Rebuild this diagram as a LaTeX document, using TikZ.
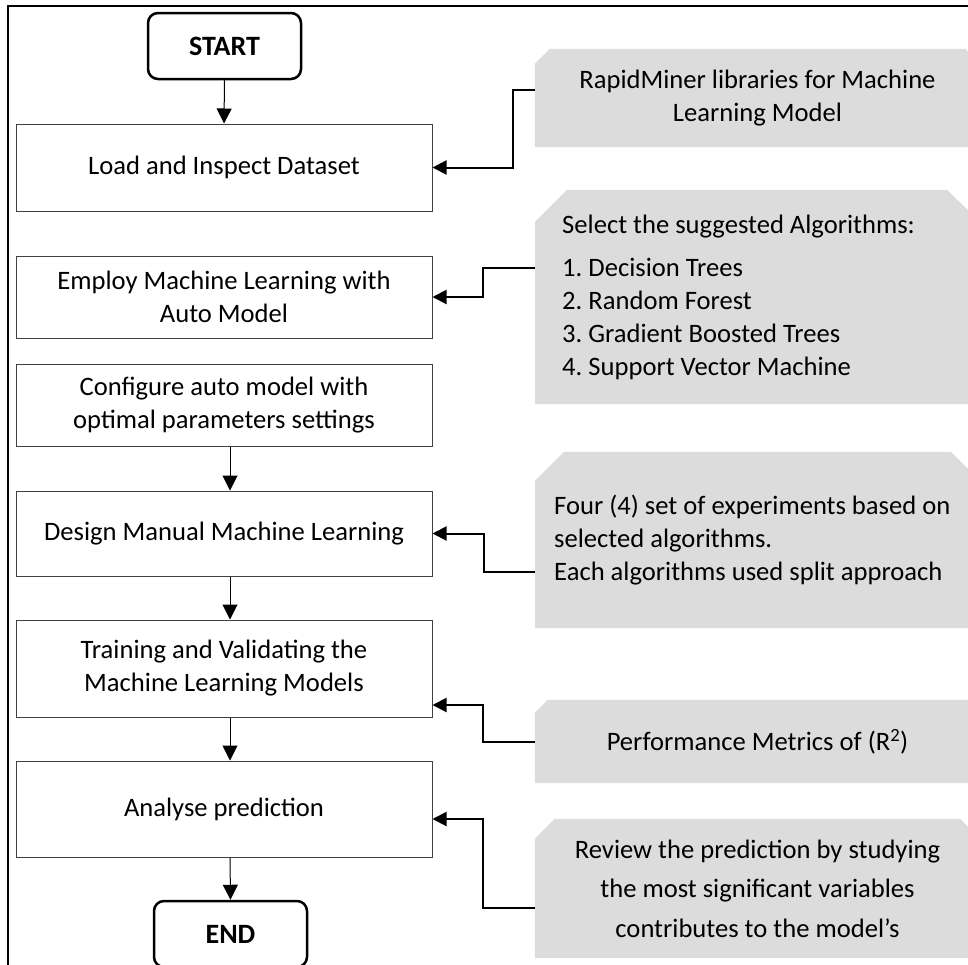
\documentclass[tikz,border=0pt]{standalone}
\usepackage{fontspec}
\setmainfont{Carlito}
\usetikzlibrary{arrows.meta,backgrounds}
\definecolor{grayfill}{HTML}{DCDCDC}
\definecolor{boxline}{HTML}{404040}
\newcommand\snipfill[2]{\fill[grayfill] (#1.south west) -- ([yshift=-#2pt]#1.north west) -- ([xshift=#2pt]#1.north west) -- ([xshift=-#2pt]#1.north east) -- ([yshift=-#2pt]#1.north east) -- (#1.south east) -- cycle;}
\begin{document}
\frenchspacing
\begin{tikzpicture}[x=1pt,y=-1pt,
  every node/.style={font=\fontsize{26.6}{33}\selectfont, inner sep=0pt},
  flowbox/.style={draw=boxline, line width=1pt, minimum width=416pt, align=center},
  term/.style={draw=black, line width=2.5pt, rounded corners=10pt, minimum width=153pt, minimum height=66pt, font=\fontsize{28}{33}\selectfont\bfseries},
  note/.style={minimum width=445pt, align=center},
  noteleft/.style={anchor=west, align=flush left},
  flow/.style={line width=1pt, -{Triangle[length=15pt,width=15pt]}},
  conn/.style={line width=2pt, -{Triangle[length=14pt,width=14pt]}},
]
\useasboundingbox (0,0) rectangle (968,964);
\draw[line width=2pt] (8,990) -- (8,6) -- (990,6);

% flow column
\node[term] (start) at (224.5,46) {START};
\node[flowbox, minimum height=87pt] (b1) at (224,167.5) {Load and Inspect Dataset};
\node[flowbox, minimum height=82pt] (b2) at (224,297) {Employ Machine Learning with\\Auto Model};
\node[flowbox, minimum height=82pt] (b3) at (224,405) {Configure auto model with\\optimal parameters settings};
\node[flowbox, minimum height=85pt] (b4) at (224,533.5) {Design Manual Machine Learning};
\node[flowbox, minimum height=97pt] (b5) at (224,668.5) {Training and Validating the\\Machine Learning Models};
\node[flowbox, minimum height=96pt] (b6) at (224,809) {Analyse prediction};
\node[term] (end) at (230.5,934) {END};

% notes
\node[note, minimum height=98pt] (nA) at (757.5,98) {RapidMiner libraries for Machine\\Learning Model};
\node[noteleft, minimum height=214pt, text width=418pt, inner xsep=27pt] (nB) at (535,297) {Select the suggested Algorithms:\\[10pt]1. Decision Trees\\2. Random Forest\\3. Gradient Boosted Trees\\4. Support Vector Machine};
\node[noteleft, minimum height=176pt, text width=430pt, inner xsep=19pt] (nC) at (535,540) {Four (4) set of experiments based on\\selected algorithms.\\Each algorithms used split approach};
\node[note, minimum height=83pt] (nD) at (757.5,741.5) {Performance Metrics of (R\textsuperscript{2})};
\node[note, minimum height=139pt, font=\fontsize{26.6}{39.5}\selectfont] (nE) at (757.5,888.5) {Review the prediction by studying\\the most significant variables\\contributes to the model’s};

\begin{scope}[on background layer]
\fill[white] (0,0) rectangle (968,964);
\snipfill{nA}{15}
\fill[grayfill] (nB.south west) -- ([yshift=-32pt]nB.north west) -- ([xshift=32pt]nB.north west) -- ([xshift=412pt]nB.north west) -- ([xshift=445pt,yshift=-32pt]nB.north west) -- ([xshift=445pt]nB.south west) -- cycle;
\fill[grayfill] (nC.south west) -- ([yshift=-29pt]nC.north west) -- ([xshift=29pt]nC.north west) -- ([xshift=416pt]nC.north west) -- ([xshift=445pt,yshift=-29pt]nC.north west) -- ([xshift=445pt]nC.south west) -- cycle;
\snipfill{nD}{13}
\snipfill{nE}{20}
\end{scope}

% flow arrows
\draw[flow] (start.south) -- (b1.north);
\draw[flow] ([xshift=6pt]b3.south) -- ([xshift=6pt]b4.north);
\draw[flow] ([xshift=6pt]b4.south) -- ([xshift=6pt]b5.north);
\draw[flow] ([xshift=6pt]b5.south) -- ([xshift=6pt]b6.north);
\draw[flow] ([xshift=6pt]b6.south) -- (end.north);

% note connectors
\draw[conn] ([yshift=8pt]nA.west) -- ++(-22,0) |- (b1.east);
\draw[conn] ([yshift=29pt]nB.west) -- ++(-52,0) |- (b2.east);
\draw[conn] ([yshift=-32pt]nC.west) -- ++(-51,0) |- (b4.east);
\draw[conn] (nD.west) -- ++(-52,0) |- ([yshift=-36.5pt]b5.east);
\draw[conn] ([yshift=-19.5pt]nE.west) -- ++(-52,0) |- ([yshift=-10pt]b6.east);
\end{tikzpicture}
\end{document}
